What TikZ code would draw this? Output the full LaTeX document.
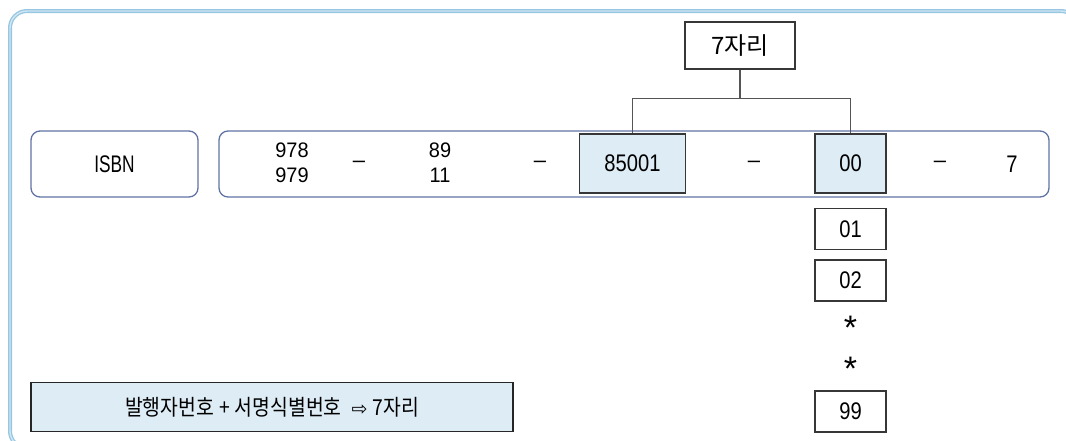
\documentclass[tikz,border=0pt]{standalone}
\usepackage{fontspec}
\setmainfont{Liberation Sans}
\newfontfamily\regf{Liberation Sans}[FakeStretch=0.95]
\newfontfamily\narf{Liberation Sans}[FakeStretch=0.84]
\newfontfamily\isbnf{Liberation Sans}[FakeStretch=0.72]
\newfontfamily\krf{Noto Sans CJK KR}[FakeStretch=0.88]
\newfontfamily\krw{Noto Sans CJK KR}
\newfontfamily\symf{DejaVu Sans}
\definecolor{frameout}{RGB}{150,198,225}
\definecolor{framein}{RGB}{208,230,243}
\definecolor{slate}{RGB}{95,115,165}
\definecolor{cellfill}{RGB}{222,236,245}
\definecolor{darkline}{RGB}{55,55,55}
\definecolor{conngray}{RGB}{85,85,85}
\begin{document}
\begin{tikzpicture}[x=1pt,y=-1pt,
  outerbox/.style={draw=slate, line width=1.3pt, rounded corners=9pt, inner sep=0pt},
  cellbox/.style={draw=darkline, line width=1.1pt, fill=cellfill, inner sep=0pt},
  plainbox/.style={draw=darkline, line width=1.1pt, fill=white, inner sep=0pt},
  narnum/.style={font=\narf\fontsize{24}{28}\selectfont, text=black},
  isbntxt/.style={font=\isbnf\fontsize{24}{28}\selectfont, text=black},
  regnum/.style={font=\regf\fontsize{21}{25}\selectfont, text=black, align=center, inner sep=0pt},
  dashtxt/.style={font=\fontsize{22}{26}\selectfont, inner sep=0pt},
  startxt/.style={font=\fontsize{34}{34}\selectfont, inner sep=0pt},
  krtxt/.style={font=\krf\fontsize{22}{26}\selectfont},
  krbig/.style={font=\krw\fontsize{24}{28}\selectfont},
  conn/.style={draw=conngray, line width=1.1pt}
]
\useasboundingbox (0,0) rectangle (1066,440);
% outer frame
\draw[frameout, line width=4pt, rounded corners=17pt] (10,11) rectangle (1078,448);
\draw[framein, line width=1.4pt, rounded corners=17pt] (10,11) rectangle (1078,448);

% main row
\node[outerbox, minimum width=167pt, minimum height=66pt, isbntxt] (isbn) at (114.5,164) {ISBN};
\node[outerbox, minimum width=830pt, minimum height=66pt] (main) at (634,164) {};

\node[regnum] (g1) at (292,163) {978\\979};
\node[dashtxt] (d1) at (359,164.3) {–};
\node[regnum] (g2) at (440,163) {89\\11};
\node[dashtxt] (d2) at (540,164.3) {–};
\node[cellbox, minimum width=106pt, minimum height=59pt, narnum] (c85) at (632.5,163.5) {85001};
\node[dashtxt] (d3) at (754,164.3) {–};
\node[cellbox, minimum width=71pt, minimum height=59pt, narnum] (c00) at (850.5,163.5) {00};
\node[dashtxt] (d4) at (940,164.3) {–};
\node[narnum, inner sep=0pt] (chk) at (1012,164) {7};

% 7 digits label
\node[plainbox, minimum width=110pt, minimum height=47pt, krbig] (seven) at (740,45.5) {7자리};
\draw[conn] (seven.south) -- ++(0,29) coordinate (j);
\draw[conn] (j) -| (c85.north);
\draw[conn] (j) -| (c00.north);

% title numbers column
\node[plainbox, minimum width=71pt, minimum height=41pt, narnum] (c01) at (850.5,229) {01};
\node[plainbox, minimum width=71pt, minimum height=41pt, narnum] (c02) at (850.5,280.5) {02};
\node[startxt] (s1) at (850.5,328) {*};
\node[startxt] (s2) at (850.5,369) {*};
\node[plainbox, minimum width=71pt, minimum height=41pt, narnum] (c99) at (850.5,411.5) {99};

% bottom note
\node[cellbox, line width=1.3pt, draw=black!85, minimum width=482pt, minimum height=48.5pt, krtxt] (note) at (272,407)
  {발행자번호\hspace{5pt}+\hspace{5pt}서명식별번호\hspace{10pt}{\symf\fontsize{19}{19}\selectfont ⇨}\hspace{5pt}7자리};
\end{tikzpicture}
\end{document}
